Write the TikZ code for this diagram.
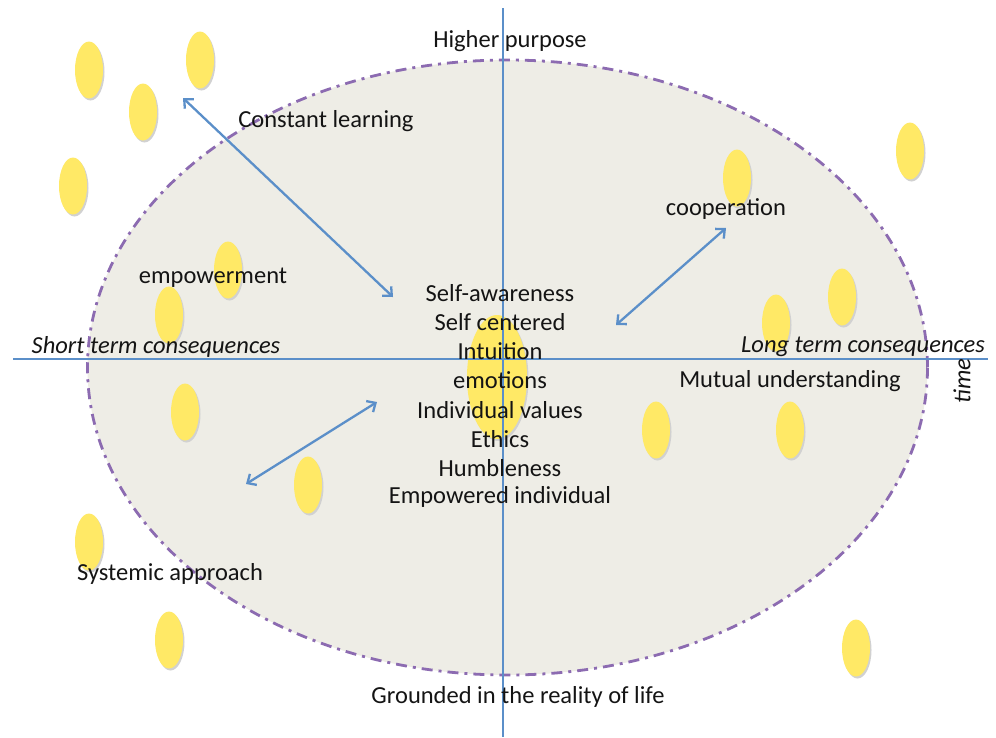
\documentclass[tikz,border=0pt]{standalone}
\usepackage{fontspec}
\setmainfont{Carlito}
\usetikzlibrary{arrows.meta}
\definecolor{fieldfill}{HTML}{EEEDE6}
\definecolor{rimpurple}{HTML}{8C6BB1}
\definecolor{axisblue}{HTML}{5B8FC9}
\definecolor{seedyellow}{HTML}{FFE966}
\tikzset{
  seed/.style={fill=seedyellow, draw=none},
  seedshadow/.style={fill=black!18, draw=none},
  axis/.style={draw=axisblue, line width=2.6pt},
  link/.style={draw=axisblue, line width=2.3pt, {Straight Barb[length=7pt,width=13pt]}-{Straight Barb[length=7pt,width=13pt]}},
  lbl/.style={font=\fontsize{24.5}{28}\selectfont, text=black!92, inner sep=0pt},
  ilbl/.style={lbl, font=\fontsize{24.5}{28}\selectfont\itshape}
}
\begin{document}
\begin{tikzpicture}[x=1pt,y=-1pt]
\useasboundingbox (0,0) rectangle (996,737);
% background field
\fill[fieldfill] (507.5,367.5) ellipse [x radius=420, y radius=307.5];
\draw[rimpurple, line width=2.8pt, dash pattern=on 11pt off 6pt on 3pt off 6pt] (507.5,367.5) ellipse [x radius=420, y radius=307.5];
% seeds
\foreach \px/\py in {89/70, 200/60, 143/112, 73/186, 910/151, 737/178, 228/270, 169/315, 842/297, 776/323, 185/412, 656/430, 790/430, 308/485, 89/542, 169/640, 856/648}{
  \fill[seedshadow] (\px+1.5,\py+2) ellipse [x radius=14, y radius=28.5];
  \fill[seed] (\px,\py) ellipse [x radius=14, y radius=28.5];
}
\fill[seedshadow] (498.5,379) ellipse [x radius=30, y radius=62];
\fill[seed] (497,377) ellipse [x radius=30, y radius=62];
% axes
\coordinate (top) at (503,8);
\coordinate (bottom) at (503,737);
\coordinate (left) at (13,359);
\coordinate (right) at (988,359);
\draw[axis] (top) -- (bottom);
\draw[axis] (left) -- (right);
% arrows
\coordinate (a1) at (183,98);  \coordinate (b1) at (393,297);
\coordinate (a2) at (726,228); \coordinate (b2) at (616,325);
\coordinate (a3) at (377,402); \coordinate (b3) at (246,484);
\draw[link] (a1) -- (b1);
\draw[link] (a2) -- (b2);
\draw[link] (a3) -- (b3);
% labels
\node[lbl] (higher) at (510,41) {Higher purpose};
\node[lbl] (learning) at (326,121) {Constant learning};
\node[lbl] (coop) at (726,209) {cooperation};
\node[lbl] (empow) at (213,278) {empowerment};
\node[ilbl] (short) at (156,347) {Short term consequences};
\node[ilbl] (long) at (863,347) {Long term consequences};
\node[lbl] (mutual) at (790,381) {Mutual understanding};
\node[ilbl, rotate=90] (time) at (962,381) {time};
\node[lbl] (systemic) at (170,574) {Systemic approach};
\node[lbl] (grounded) at (518,697) {Grounded in the reality of life};
\foreach \t [count=\i from 0] in {Self-awareness, Self centered, Intuition, emotions, Individual values, Ethics, Humbleness, Empowered individual}{
  \node[lbl] (c\i) at (500,293+29.2*\i) {\t};
}
\end{tikzpicture}
\end{document}
